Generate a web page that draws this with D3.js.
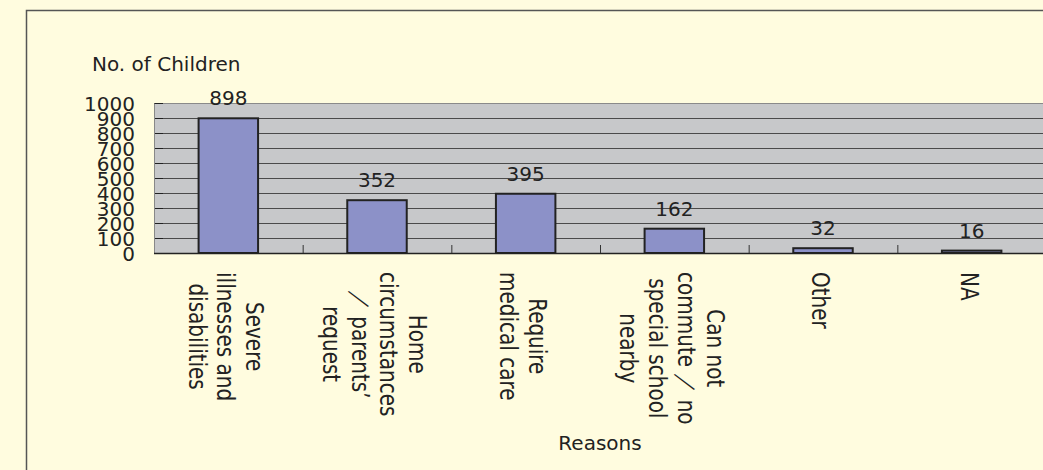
<!DOCTYPE html>
<html lang="en">
<head>
<meta charset="UTF-8">
<title>Reasons</title>
<script src="https://cdn.jsdelivr.net/npm/d3@7"></script>
<style>
  body{margin:0;background:#fffcdf;overflow:hidden;}
  svg{display:block;font-family:"DejaVu Sans",sans-serif;}
  text{fill:#222;}
</style>
</head>
<body>
<div id="root"></div>
<script>
let categories = ["Severe illnesses and disabilities","Home circumstances / parents' request","Require medical care","Can not commute / no special school nearby","Other","NA"]
let catLines = [["Severe","illnesses and","disabilities"],["Home","circumstances","／ parents’","request"],["Require","medical care"],["Can not","commute ／ no","special school","nearby"],["Other"],["NA"]]
let values = [898,352,395,162,32,16]
let yTicks = [0,100,200,300,400,500,600,700,800,900,1000]

let width=1043,height=470,plotL=154,plotR=1046,plotT=103,plotB=253

let svg = d3.select("#root").append("svg").attr("width",width).attr("height",height)

// chart frame
svg.append("rect").attr("x",26.5).attr("y",10.5).attr("width",1100).attr("height",600)
  .attr("fill","#fffcdf").attr("stroke","#555").attr("stroke-width",1.5)

let y = d3.scaleLinear().domain([0,1000]).range([plotB,plotT])
let xCat = d3.scaleBand().domain(categories).range([plotL,plotR]).padding(0)
let xBar = d3.scaleBand().domain(categories).range([plotL,plotR]).paddingInner(0.6).paddingOuter(0.3)

// plot area
svg.append("rect").attr("x",plotL).attr("y",plotT).attr("width",plotR-plotL).attr("height",plotB-plotT)
  .attr("fill","#c7c8ca")

// gridlines
let grid = svg.append("g").attr("transform","translate("+plotL+",0)")
  .call(d3.axisLeft(y).tickValues(yTicks).tickSize(-(plotR-plotL)).tickFormat(""))
grid.select(".domain").remove()
grid.selectAll("line").attr("stroke",d=>d==1000?"#8a8a8a":"#4a4a4a").attr("stroke-width",1)

// short ticks on the value axis
svg.append("g").selectAll("line").data(yTicks).join("line")
  .attr("x1",plotL).attr("x2",plotL+9).attr("y1",d=>y(d)+0.5).attr("y2",d=>y(d)+0.5)
  .attr("stroke","#222")

// y labels
let yAxis = svg.append("g").attr("transform","translate("+plotL+",0)")
  .call(d3.axisLeft(y).tickValues(yTicks).tickFormat(d3.format("d")).tickSize(0).tickPadding(19))
yAxis.select(".domain").attr("stroke","#888")
yAxis.selectAll("text").attr("font-size",20).attr("font-family","DejaVu Sans").attr("dy","0.36em")

// bars
svg.append("g").selectAll("rect").data(values).join("rect")
  .attr("x",(d,i)=>xBar(categories[i]))
  .attr("y",d=>y(d))
  .attr("width",xBar.bandwidth())
  .attr("height",d=>plotB-y(d))
  .attr("fill","#8c91c8").attr("stroke","#222").attr("stroke-width",2)

// x axis line + inward ticks at category boundaries
svg.append("line").attr("x1",plotL).attr("x2",plotR).attr("y1",plotB+0.5).attr("y2",plotB+0.5)
  .attr("stroke","#222").attr("stroke-width",1.5)
svg.append("g").selectAll("line").data(categories.slice(1)).join("line")
  .attr("x1",d=>xCat(d)+0.5).attr("x2",d=>xCat(d)+0.5)
  .attr("y1",plotB).attr("y2",plotB-8).attr("stroke","#333")

// value labels
svg.append("g").selectAll("text").data(values).join("text")
  .attr("x",(d,i)=>xBar(categories[i])+xBar.bandwidth()/2)
  .attr("y",d=>y(d)-13)
  .attr("text-anchor","middle").attr("font-size",20)
  .text(d=>d)

// rotated category labels
svg.append("g").selectAll("g").data(catLines).join("g")
  .each(function(lines,i){
    let g = d3.select(this)
    let cx = xCat(categories[i]) + xCat.bandwidth()/2
    let t = g.append("text").attr("font-size",20).attr("text-anchor","middle")
    lines.forEach((s,j)=>t.append("tspan").attr("x",0).attr("dy",j?24:0).text(s))
    let maxLen = d3.max(t.selectAll("tspan").nodes(),n=>n.getComputedTextLength())
    let b0 = cx - 11 + (lines.length-1)*14.4
    g.attr("transform","translate("+b0+","+(272+maxLen/2)+") rotate(90) scale(1,1.2)")
  })

// axis titles
svg.append("text").attr("x",92).attr("y",71).attr("font-size",20).text("No. of Children")
svg.append("text").attr("x",(plotL+plotR)/2).attr("y",450).attr("text-anchor","middle")
  .attr("font-size",20).text("Reasons")
</script>
</body>
</html>
